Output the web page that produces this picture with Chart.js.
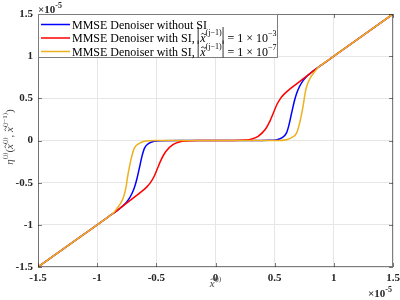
<!DOCTYPE html>
<html>
<head>
<meta charset="utf-8">
<script src="https://cdn.jsdelivr.net/npm/chart.js@4/dist/chart.umd.min.js"></script>
<style>
  body { margin: 0; background: #fff; }
  canvas { display: block; }
</style>
</head>
<body>
<canvas id="c" width="400" height="300"></canvas>
<script>
// values in units of 1e-5
const ticks = [-1.5, -1, -0.5, 0, 0.5, 1, 1.5];

const blueX = [-1.5, -1.25, -1, -0.9, -0.83, -0.8, -0.77, -0.74, -0.71, -0.686, -0.665, -0.644, -0.62, -0.6, -0.56, -0.52, -0.45, -0.3, 0, 0.3, 0.45, 0.52, 0.56, 0.6, 0.62, 0.644, 0.665, 0.686, 0.71, 0.74, 0.77, 0.8, 0.83, 0.9, 1, 1.25, 1.5];
const blueY = [-1.5, -1.25, -1, -0.9, -0.83, -0.795, -0.76, -0.71, -0.64, -0.56, -0.46, -0.33, -0.18, -0.09, -0.03, -0.01, -0.002, 0, 0, 0, 0.002, 0.01, 0.03, 0.09, 0.18, 0.33, 0.46, 0.56, 0.64, 0.71, 0.76, 0.795, 0.83, 0.9, 1, 1.25, 1.5];

const redX = [-1.5, -1.25, -1, -0.9, -0.85, -0.8, -0.74, -0.68, -0.62, -0.58, -0.55, -0.52, -0.49, -0.46, -0.42, -0.36, -0.3, -0.25, -0.15, 0, 0.15, 0.25, 0.3, 0.36, 0.42, 0.46, 0.49, 0.52, 0.55, 0.58, 0.62, 0.68, 0.74, 0.8, 0.85, 0.9, 1, 1.25, 1.5];
const redY = [-1.5, -1.25, -1, -0.9, -0.85, -0.795, -0.73, -0.665, -0.6, -0.55, -0.5, -0.43, -0.33, -0.23, -0.13, -0.05, -0.015, -0.005, 0, 0, 0, 0.005, 0.015, 0.05, 0.13, 0.23, 0.33, 0.43, 0.5, 0.55, 0.6, 0.665, 0.73, 0.795, 0.85, 0.9, 1, 1.25, 1.5];

const orangeX = [-1.5, -1.25, -1, -0.9, -0.86, -0.83, -0.8, -0.775, -0.757, -0.745, -0.73, -0.71, -0.686, -0.65, -0.6, -0.5, 0, 0.5, 0.6, 0.65, 0.686, 0.71, 0.73, 0.745, 0.757, 0.775, 0.8, 0.83, 0.86, 0.9, 1, 1.25, 1.5];
const orangeY = [-1.5, -1.25, -1, -0.9, -0.855, -0.8, -0.74, -0.66, -0.56, -0.45, -0.33, -0.2, -0.09, -0.04, -0.01, 0, 0, 0, 0.01, 0.04, 0.09, 0.2, 0.33, 0.45, 0.56, 0.66, 0.74, 0.8, 0.855, 0.9, 1, 1.25, 1.5];

const labels = ['MMSE Denoiser without SI', 'MMSE Denoiser with SI, ', 'MMSE Denoiser with SI, '];
const labelExp = [null, '\u22123', '\u22127'];
const colors = ['#0000ff', '#ff0000', '#edb120'];

const serif = '"Liberation Serif", "DejaVu Serif", serif';
const dark = '#262626';

const pts = (xs, ys) => xs.map((x, i) => ({ x: x, y: ys[i] }));

function partsWidth(ctx, parts) {
  let w = 0;
  for (const p of parts) { ctx.font = p.font; w += ctx.measureText(p.t).width; }
  return w;
}

// draws text pieces left to right; pieces with tilde get a small ~ above them
function drawParts(ctx, x, y, parts) {
  for (const p of parts) {
    ctx.font = p.font;
    const w = ctx.measureText(p.t).width;
    ctx.fillText(p.t, x, y + (p.dy || 0));
    if (p.tilde) {
      const cx = x + w / 2 + 1, ty = y - p.tilde;
      ctx.save();
      ctx.strokeStyle = ctx.fillStyle;
      ctx.lineWidth = 0.8;
      ctx.beginPath();
      ctx.moveTo(cx - 2.5, ty + 0.5);
      ctx.bezierCurveTo(cx - 1.5, ty - 1.5, cx - 0.5, ty - 0.5, cx, ty);
      ctx.bezierCurveTo(cx + 0.5, ty + 0.5, cx + 1.5, ty + 1.5, cx + 2.5, ty - 0.5);
      ctx.stroke();
      ctx.restore();
    }
    x += w;
  }
  return x;
}

const frame = {
  id: 'frame',
  afterDatasetsDraw(chart) {
    const ctx = chart.ctx;
    const a = chart.chartArea;
    const xs = chart.scales.x, ys = chart.scales.y;
    ctx.save();
    // box and inward ticks
    ctx.strokeStyle = 'rgba(38,38,38,0.6)';
    ctx.lineWidth = 1;
    ctx.strokeRect(a.left + 0.5, a.top + 0.5, a.right - a.left - 1, a.bottom - a.top - 1);
    ctx.beginPath();
    for (const t of ticks) {
      const px = Math.round(xs.getPixelForValue(t)) + 0.5;
      ctx.moveTo(px, a.bottom); ctx.lineTo(px, a.bottom - 4);
      ctx.moveTo(px, a.top); ctx.lineTo(px, a.top + 4);
      const py = Math.round(ys.getPixelForValue(t)) + 0.5;
      ctx.moveTo(a.left, py); ctx.lineTo(a.left + 4, py);
      ctx.moveTo(a.right, py); ctx.lineTo(a.right - 4, py);
    }
    ctx.stroke();

    // legend
    const lx = a.left, ly = a.top, lw = 240, lh = 44;
    ctx.fillStyle = '#fff';
    ctx.fillRect(lx, ly, lw, lh);
    ctx.strokeStyle = 'rgba(38,38,38,0.6)';
    ctx.strokeRect(lx + 0.5, ly + 0.5, lw - 1, lh - 1);
    const rows = [ly + 10.5, ly + 24, ly + 37.5];
    ctx.textBaseline = 'middle';
    ctx.textAlign = 'left';
    labels.forEach((lab, i) => {
      const ry = rows[i];
      ctx.strokeStyle = colors[i];
      ctx.lineWidth = 1.5;
      ctx.beginPath(); ctx.moveTo(lx + 3, ry); ctx.lineTo(lx + 32, ry); ctx.stroke();
      ctx.fillStyle = '#000';
      let x = drawParts(ctx, lx + 34, ry + 1, [{ t: lab, font: '12px ' + serif }]);
      if (labelExp[i]) {
        ctx.strokeStyle = '#000';
        ctx.lineWidth = 0.8;
        ctx.beginPath(); ctx.moveTo(x + 0.5, ry - 11); ctx.lineTo(x + 0.5, ry + 6); ctx.stroke();
        x = drawParts(ctx, x + 2.5, ry + 1, [
          { t: 'x', font: 'italic 12px ' + serif, tilde: 5 },
          { t: '(j\u22121)', font: '8px ' + serif, dy: -6 }
        ]);
        ctx.beginPath(); ctx.moveTo(x + 1.5, ry - 11); ctx.lineTo(x + 1.5, ry + 6); ctx.stroke();
        drawParts(ctx, x + 3, ry + 1, [
          { t: ' = 1 \u00d7 10', font: '12px ' + serif },
          { t: labelExp[i], font: '8px ' + serif, dy: -5 }
        ]);
      }
    });

    // exponent labels
    ctx.fillStyle = dark;
    drawParts(ctx, a.left, 10, [
      { t: '\u00d710', font: 'bold 11px ' + serif },
      { t: '-5', font: 'bold 8px ' + serif, dy: -4 }
    ]);
    drawParts(ctx, a.right - 25, 294, [
      { t: '\u00d710', font: 'bold 11px ' + serif },
      { t: '-5', font: 'bold 8px ' + serif, dy: -4 }
    ]);

    // axis titles
    ctx.fillStyle = '#444';
    const big = '11px ' + serif, it = 'italic 11px ' + serif, sup = '7px ' + serif;
    const xt = [{ t: 'x', font: it, tilde: 4.5 }, { t: '(j)', font: sup, dy: -5 }];
    drawParts(ctx, (a.left + a.right) / 2 - partsWidth(ctx, xt) / 2, 284, xt);
    const yt = [
      { t: '\u03b7', font: it }, { t: '(j)', font: sup, dy: -5 },
      { t: '(', font: big }, { t: 'x', font: it, tilde: 4.5 }, { t: '(j)', font: sup, dy: -5 },
      { t: ', ', font: big }, { t: 'x', font: it, tilde: 4.5 }, { t: '(j\u22121)', font: sup, dy: -5 },
      { t: ')', font: big }
    ];
    ctx.save();
    ctx.translate(10, 137);
    ctx.rotate(-Math.PI / 2);
    drawParts(ctx, -partsWidth(ctx, yt) / 2, 0, yt);
    ctx.restore();
    ctx.restore();
  }
};

const datasets = [
  { data: pts(blueX, blueY), borderColor: colors[0], order: 2 },
  { data: pts(redX, redY), borderColor: colors[1], order: 1 },
  { data: pts(orangeX, orangeY), borderColor: colors[2], order: 0 }
].map((d, i) => Object.assign(d, {
  label: labels[i],
  borderWidth: 1.5,
  pointRadius: 0,
  fill: false,
  cubicInterpolationMode: 'monotone'
}));

const tickFont = { family: serif, size: 11, weight: 'bold' };
const fmt = v => String(v);

new Chart(document.getElementById('c'), {
  type: 'line',
  data: { datasets: datasets },
  plugins: [frame],
  options: {
    responsive: false,
    animation: false,
    layout: { padding: { top: 14, right: 7, left: 0, bottom: 0 } },
    plugins: { legend: { display: false }, tooltip: { enabled: false } },
    scales: {
      x: {
        type: 'linear',
        min: -1.5, max: 1.5,
        afterBuildTicks: s => { s.ticks = ticks.map(v => ({ value: v })); },
        afterFit: s => { s.height = 33; s.paddingLeft = 0; s.paddingRight = 0; },
        grid: { color: '#e6e6e6', drawTicks: false },
        border: { display: false },
        ticks: { font: tickFont, color: dark, padding: 5, maxRotation: 0, callback: fmt }
      },
      y: {
        type: 'linear',
        min: -1.5, max: 1.5,
        afterBuildTicks: s => { s.ticks = ticks.map(v => ({ value: v })); },
        afterFit: s => { s.width = 38; s.paddingTop = 0; s.paddingBottom = 0; },
        grid: { color: '#e6e6e6', drawTicks: false },
        border: { display: false },
        ticks: { font: tickFont, color: dark, padding: 5, callback: fmt }
      }
    }
  }
});
</script>
</body>
</html>
